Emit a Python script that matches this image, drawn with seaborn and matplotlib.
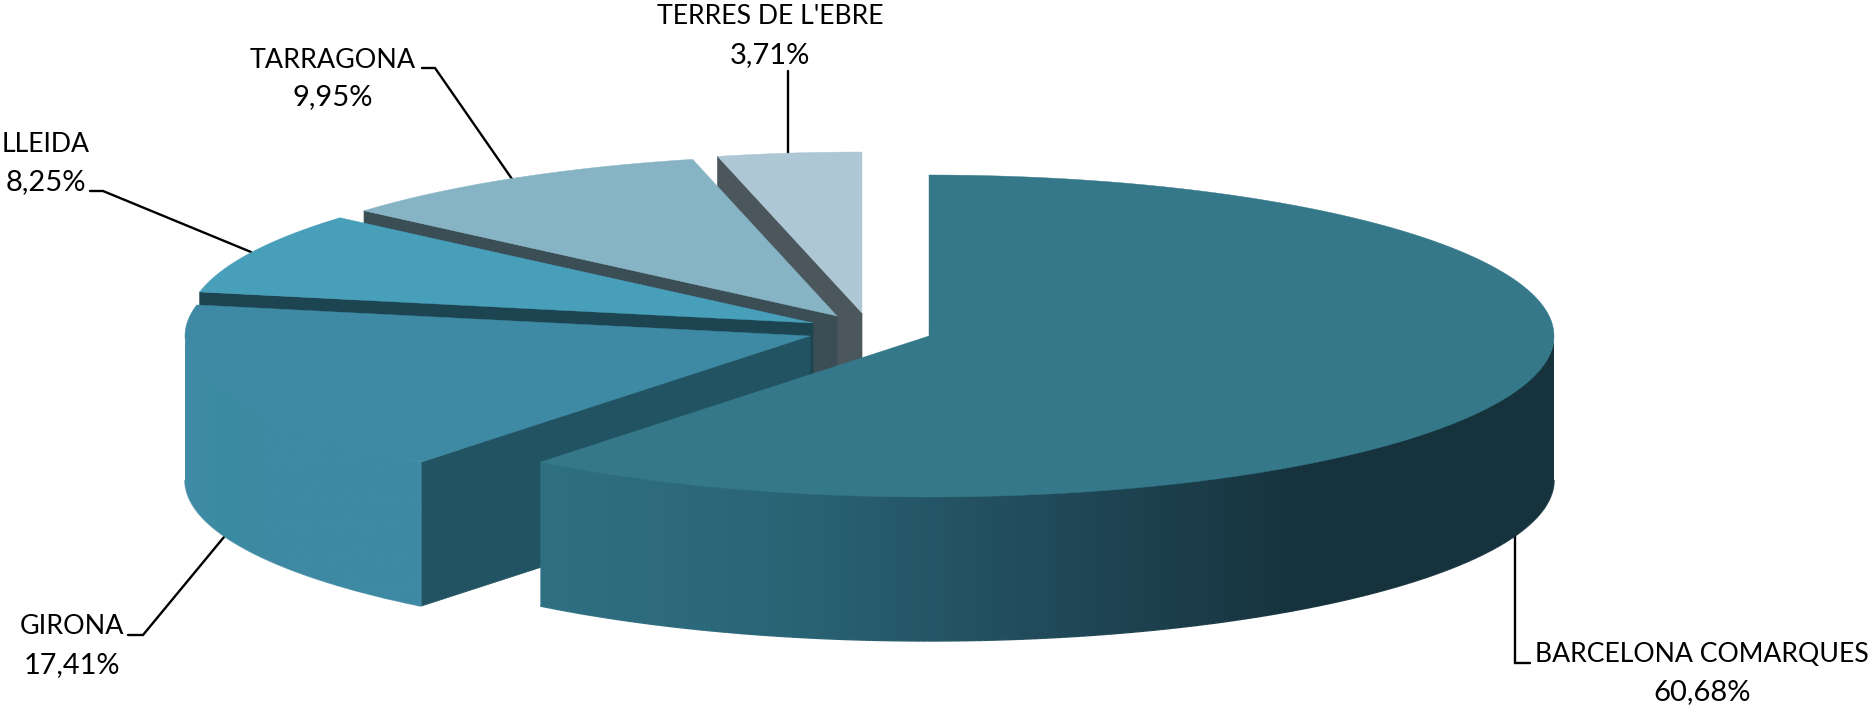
import numpy as np
import seaborn as sns
import matplotlib.pyplot as plt
from matplotlib.patches import Polygon
from matplotlib.collections import LineCollection

categories = ['BARCELONA COMARQUES', 'GIRONA', 'LLEIDA', 'TARRAGONA', "TERRES DE L'EBRE"]
values = [60.68, 17.41, 8.25, 9.95, 3.71]

top_colors = ['#347889', '#3e89a3', '#479fba', '#86b4c5', '#aec7d4']
cut_colors = ['#214a5a', '#225362', '#1c4451', '#3b4d55', '#4b575c']
wall_stops = [
    ['#2f7083', '#296475', '#214a5a', '#16333d', '#16333d'],
    ['#408aa5', '#3a8ca2', '#3e89a3', '#3e89a3', '#3e89a3', '#3e89a3', '#3e89a3'],
    ['#479fba', '#479fba'],
    ['#86b4c5', '#86b4c5'],
    ['#aec7d4', '#aec7d4'],
]

# pie geometry in pixels
centers = [(929, 336), (810, 336), (813, 323), (837, 316), (862, 313)]
rx, ry = 625, 161
depth = 144

# leader lines and label anchors, in pixels
leaders = [
    ([1530, 1515, 1515], [663, 663, 533]),
    ([128, 143, 224], [635, 635, 537]),
    ([90, 103, 251], [191, 191, 252]),
    ([422, 435, 512], [68, 68, 179]),
    ([788, 788], [71, 155]),
]
label_pos = [(1702, 654, 692), (72, 626, 665), (46, 145, 182), (333, 60, 97), (770, 16, 55)]
name_size = [19.2, 19.4, 19.2, 19.4, 19.2]
pct_size = [21, 20.8, 21, 21, 21]


def ring(center, a):
    x = center[0] + rx * np.sin(a)
    y = center[1] - ry * np.cos(a)
    return x, y


sns.set_theme(style='white')
plt.rcParams['font.family'] = ['Lato', 'DejaVu Sans']

fig, ax = plt.subplots(figsize=(18.68, 7.07), dpi=100)
fig.subplots_adjust(0, 0, 1, 1)

edges = np.radians(np.concatenate([[0], np.cumsum(values)]) * 3.6)

# back slices first, so the front ones cover them
for i in reversed(range(len(values))):
    c = centers[i]
    a0, a1 = edges[i], edges[i + 1]
    zorder = 10 - i

    # cut face along the starting edge, only seen on the left slices
    if i > 0:
        ex, ey = ring(c, a0)
        ax.fill([c[0], ex, ex, c[0]], [c[1], ey, ey + depth, c[1] + depth],
                color=cut_colors[i], lw=0.5, zorder=zorder)

    # outer wall, front half of the ellipse only
    lo, hi = max(a0, np.pi / 2), min(a1, 3 * np.pi / 2)
    if lo < hi:
        a = np.linspace(lo, hi, 400)
        x, y = ring(c, a)
        pal = np.array(sns.blend_palette(wall_stops[i], 256))
        im = ax.imshow(pal[None, :, :], extent=(x.min(), x.max(), y.max() + depth, y.min() - 10),
                       aspect='auto', interpolation='bilinear', zorder=zorder)
        # upper rim lifted under the top face so no seam shows along the arc
        yin = y - 4 * np.sin((a - lo) / (hi - lo) * np.pi)
        verts = np.c_[np.r_[x, x[::-1]], np.r_[yin, y[::-1] + depth]]
        im.set_clip_path(Polygon(verts, transform=ax.transData))
        # soft lower rim, the clipped image has a hard edge
        t = ((x - x.min()) / (x.max() - x.min()) * 255).astype(int)
        pts = np.c_[x, y + depth]
        segs = np.stack([pts[:-1], pts[1:]], axis=1)
        ax.add_collection(LineCollection(segs, colors=pal[t[:-1]], lw=1, zorder=zorder))

    a = np.linspace(a0, a1, 300)
    x, y = ring(c, a)
    ax.fill(np.r_[c[0], x], np.r_[c[1], y], color=top_colors[i], lw=0.3, zorder=zorder)

for (lx, ly) in leaders:
    ax.plot(lx, ly, color='black', lw=1.7, zorder=1, solid_joinstyle='miter')

for name, v, (tx, y1, y2), fs, ps in zip(categories, values, label_pos, name_size, pct_size):
    ax.text(tx, y1, name, ha='center', va='center', fontsize=fs, color='black')
    ax.text(tx, y2, f'{v:.2f}'.replace('.', ',') + '%', ha='center', va='center',
            fontsize=ps, color='black')

ax.set_xlim(0, 1868)
ax.set_ylim(707, 0)
ax.axis('off')
sns.despine(ax=ax, left=True, bottom=True)
fig.savefig('out.png', dpi=100)
